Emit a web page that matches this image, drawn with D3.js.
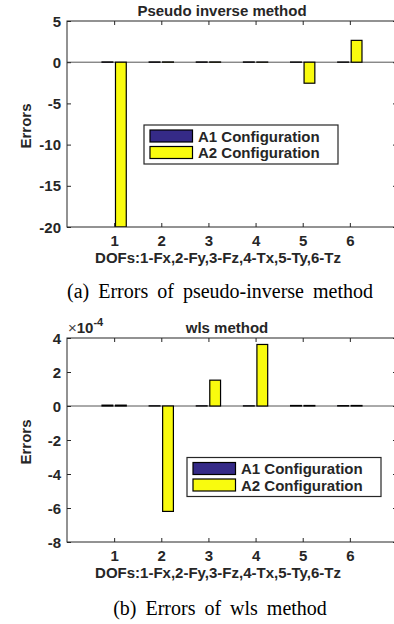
<!DOCTYPE html>
<html><head><meta charset="utf-8">
<script src="https://cdn.jsdelivr.net/npm/d3@7"></script>
<style>
html,body{margin:0;padding:0;background:#fff;}
svg{display:block;}
text{font-family:"Liberation Sans",Arial,Helvetica,sans-serif;fill:#262626;}
.cap{font-family:"Liberation Serif","Times New Roman",serif;fill:#000;}
</style></head>
<body>
<svg id="c" width="394" height="624"></svg>
<script>
// ---- data ----
const categories = [1, 2, 3, 4, 5, 6];
const seriesNames = ["A1 Configuration", "A2 Configuration"];
// Chart (a): pseudo inverse method
const pinvA1 = [0.03, 0.03, 0.03, 0.03, 0.02, 0.02];
const pinvA2 = [-20, 0.03, 0.03, 0.02, -2.55, 2.65];
const pinvYTicks = [5, 0, -5, -10, -15, -20];
// Chart (b): wls method
const wlsA1 = [0.05e-4, 0.01e-4, 0.01e-4, 0.01e-4, 0.03e-4, 0.02e-4];
const wlsA2 = [0.05e-4, -6.2e-4, 1.52e-4, 3.62e-4, 0.03e-4, 0.03e-4];
const wlsYTicks = [4e-4, 2e-4, 0, -2e-4, -4e-4, -6e-4, -8e-4];
const xTickLabels = ["1", "2", "3", "4", "5", "6"];

const colors = ["#352a87", "#f9fb0e"];
const svg = d3.select("#c");

function panel(cfg) {
  const g = svg.append("g");
  const x = d3.scaleLinear().domain([0, 7]).range([67, 397]);
  const y = d3.scaleLinear().domain(cfg.yDomain).range([cfg.bottom, cfg.top]);
  const clipId = "clip" + cfg.id;
  g.append("clipPath").attr("id", clipId).append("rect")
    .attr("x", 67).attr("y", cfg.top).attr("width", 330).attr("height", cfg.bottom - cfg.top);

  // baseline
  g.append("line").attr("x1", 67).attr("x2", 397).attr("y1", y(0)).attr("y2", y(0))
    .attr("stroke", "#555").attr("stroke-width", 1);

  const gw = 2 / 3.5, bw = gw / 2 * 0.8;
  const series = [cfg.a1, cfg.a2];
  const bars = g.append("g").attr("clip-path", `url(#${clipId})`);
  series.forEach((vals, si) => {
    bars.selectAll(null).data(categories.map((c, i) => ({c, v: vals[i]}))).join("rect")
      .attr("x", d => x(d.c - gw / 2 + (2 * si + 1) * gw / 4 - bw / 2))
      .attr("width", d => x(bw) - x(0))
      .attr("y", d => Math.min(y(d.v), y(0)))
      .attr("height", d => Math.abs(y(d.v) - y(0)))
      .attr("fill", colors[si]).attr("stroke", "#000").attr("stroke-width", 1.2);
  });

  // axes box
  const ac = "#262626";
  g.append("rect").attr("x", 67).attr("y", cfg.top).attr("width", 330).attr("height", cfg.bottom - cfg.top)
    .attr("fill", "none").attr("stroke", ac).attr("stroke-width", 1);

  const xb = d3.axisBottom(x).tickValues(categories).tickSize(-4).tickFormat((d, i) => xTickLabels[i]).tickPadding(8);
  const xa = g.append("g").attr("transform", `translate(0,${cfg.bottom})`).call(xb);
  const xt = d3.axisTop(x).tickValues(categories).tickSize(-4).tickFormat("");
  const xta = g.append("g").attr("transform", `translate(0,${cfg.top})`).call(xt);
  const yl = d3.axisLeft(y).tickValues(cfg.yTicks).tickSize(-4).tickFormat(cfg.fmt).tickPadding(6);
  const ya = g.append("g").attr("transform", `translate(67,0)`).call(yl);
  const yr = d3.axisRight(y).tickValues(cfg.yTicks).tickSize(-4).tickFormat("");
  const yra = g.append("g").attr("transform", `translate(397,0)`).call(yr);
  [xa, xta, ya, yra].forEach(a => {
    a.select(".domain").remove();
    a.selectAll(".tick line").attr("stroke", ac);
    a.selectAll("text").attr("fill", ac).attr("font-size", 15).attr("font-weight", "bold")
      .attr("font-family", "Liberation Sans, Arial, sans-serif");
  });
  xa.selectAll("text").attr("dy", null).attr("y", 19);
  ya.selectAll("text").attr("dy", null).attr("x", -6).attr("y", 5);

  // title
  g.append("text").attr("x", cfg.titleX).attr("y", cfg.top - 5).attr("text-anchor", "middle")
    .attr("font-size", 15).attr("font-weight", "bold").attr("fill", "#000").text(cfg.title);
  // x label
  g.append("text").attr("x", 218).attr("y", cfg.bottom + 36).attr("text-anchor", "middle")
    .attr("font-size", 15).attr("font-weight", "bold").text("DOFs:1-Fx,2-Fy,3-Fz,4-Tx,5-Ty,6-Tz");
  // y label
  g.append("text").attr("transform", `translate(31,${(cfg.top + cfg.bottom) / 2 + 2}) rotate(-90)`)
    .attr("text-anchor", "middle").attr("font-size", 15).attr("font-weight", "bold").text("Errors");

  // legend
  const L = cfg.legend;
  g.append("rect").attr("x", L.x).attr("y", L.y).attr("width", 194).attr("height", 39)
    .attr("fill", "#fff").attr("stroke", ac).attr("stroke-width", 1.2);
  seriesNames.forEach((n, i) => {
    g.append("rect").attr("x", L.x + 6).attr("y", L.y + 5 + i * 16.5).attr("width", 42.5).attr("height", 12)
      .attr("fill", colors[i]).attr("stroke", "#000").attr("stroke-width", 1.2);
    g.append("text").attr("x", L.x + 54).attr("y", L.y + 16.5 + i * 16.5)
      .attr("font-size", 15).attr("font-weight", "bold").attr("fill", "#000").text(n);
  });

  // caption
  g.append("text").attr("class", "cap").attr("x", 220).attr("y", cfg.capY).attr("text-anchor", "middle")
    .attr("font-size", 20).attr("word-spacing", 4).text(cfg.caption);
  return {x, y};
}

const hy = s => s.replace("\u2212", "-");
panel({id: 1, top: 21, bottom: 227, yDomain: [-20, 5], yTicks: pinvYTicks, fmt: d => hy(d3.format("d")(d)),
  a1: pinvA1, a2: pinvA2, title: "Pseudo inverse method", titleX: 222,
  legend: {x: 144, y: 125}, capY: 298, caption: "(a) Errors of pseudo-inverse method"});

panel({id: 2, top: 338, bottom: 542, yDomain: [-8e-4, 4e-4], yTicks: wlsYTicks, fmt: d => hy(d3.format("d")(Math.round(d / 1e-4))),
  a1: wlsA1, a2: wlsA2, title: "wls method", titleX: 227,
  legend: {x: 187, y: 457.5}, capY: 615, caption: "(b) Errors of wls method"});

// exponent label
const ex = svg.append("text").attr("x", 68).attr("y", 333).attr("font-size", 15);
ex.append("tspan").attr("font-weight", "normal").attr("fill", "#444").text("\u00d7");
ex.append("tspan").attr("font-weight", "bold").text("10");
ex.append("tspan").attr("font-weight", "bold").attr("font-size", 11).attr("dy", -7).text("-4");
</script>
</body></html>
